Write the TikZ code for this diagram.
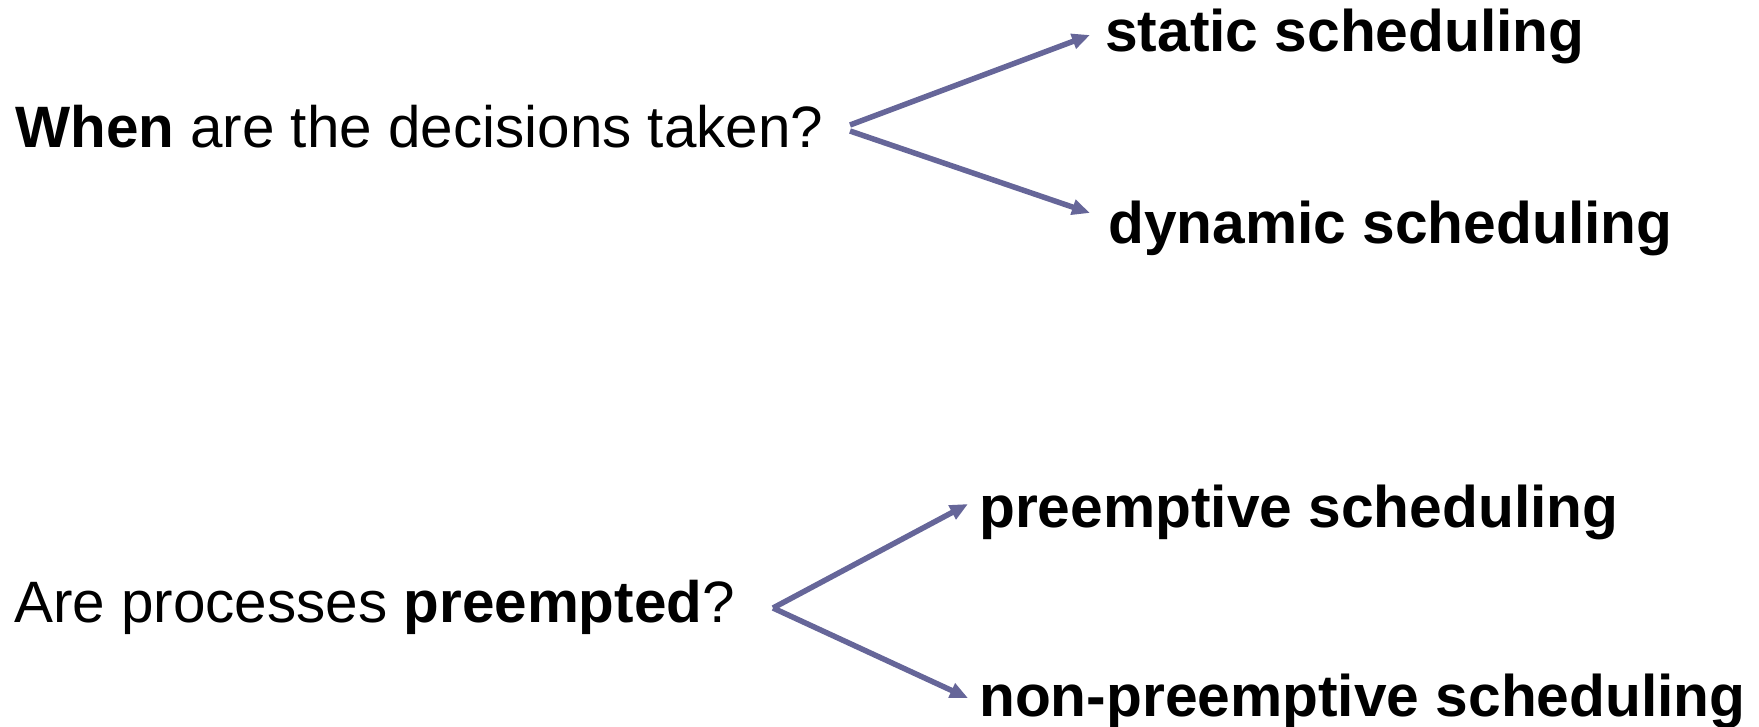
\documentclass[tikz,border=0pt]{standalone}
\usepackage{fontspec}
\setmainfont{Liberation Sans}
\usetikzlibrary{arrows.meta}
\definecolor{forkblue}{RGB}{102,102,153}
\begin{document}
\begin{tikzpicture}[x=1pt,y=-1pt,
  lbl/.style={anchor=base west,inner sep=0pt,font=\fontsize{58.4}{61}\selectfont},
  opt/.style={anchor=base west,inner sep=0pt,font=\fontsize{58.7}{61}\selectfont\bfseries},
  fork/.style={draw=forkblue,line width=5.5pt,
    -{Triangle[length=18pt,width=15pt]}}]
\useasboundingbox (0,0) rectangle (1759,727);

% first question: when are decisions taken
\node[lbl] (q1) at (15,148) {\textbf{When} are the decisions taken?};
\node[opt] (st) at (1105,52) {static scheduling};
\node[opt] (dy) at (1108,244) {dynamic scheduling};
\coordinate (q1a) at (850,125);
\coordinate (q1b) at (850,131);
\coordinate (sttip) at (1090,35);
\coordinate (dytip) at (1090,213);
\draw[fork] (q1a) -- (sttip);
\draw[fork] (q1b) -- (dytip);

% second question: are processes preempted
\node[lbl] (q2) at (14,622) {Are processes \textbf{preempted}?};
\node[opt] (pr) at (979,527) {preemptive scheduling};
\node[opt] (np) at (979,716) {non-preemptive scheduling};
\coordinate (q2o) at (773,608);
\coordinate (prtip) at (968,504);
\coordinate (nptip) at (968,698);
\draw[fork] (q2o) -- (prtip);
\draw[fork] (q2o) -- (nptip);
\end{tikzpicture}
\end{document}
